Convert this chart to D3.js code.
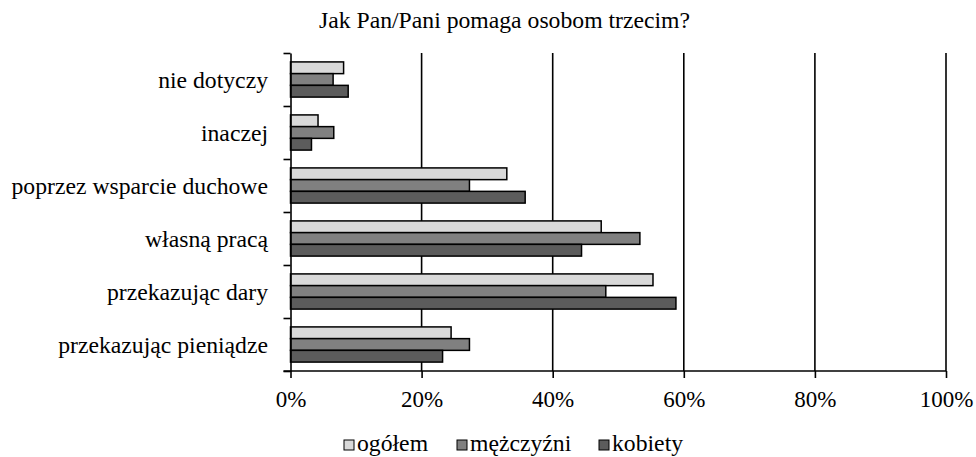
<!DOCTYPE html>
<html>
<head>
<meta charset="utf-8">
<script src="https://cdn.jsdelivr.net/npm/d3@7"></script>
<style>
  body { margin: 0; background: #fff; }
</style>
</head>
<body>
<div class="chart"></div>
<script>
// data (top category first)
const categories = ["nie dotyczy", "inaczej", "poprzez wsparcie duchowe", "własną pracą", "przekazując dary", "przekazując pieniądze"];
const seriesNames = ["ogółem", "mężczyźni", "kobiety"];
const ogolem    = [8.1, 4.2, 33.0, 47.4, 55.3, 24.5];
const mezczyzni = [6.5, 6.6, 27.3, 53.3, 48.1, 27.3];
const kobiety   = [8.8, 3.2, 35.8, 44.4, 58.8, 23.2];
const xTicks = [0, 20, 40, 60, 80, 100];
const colors = ["#d9d9d9", "#808080", "#5c5c5c"];

const seriesValues = [ogolem, mezczyzni, kobiety];
const FONT = "'Liberation Serif', 'Times New Roman', Tinos, 'DejaVu Serif', serif";

const width = 976, height = 457;
const margin = {top: 53, right: 30, bottom: 86, left: 290.5};

const svg = d3.select(".chart").append("svg")
    .attr("width", width)
    .attr("height", height)
    .attr("font-family", FONT);

const xScale = d3.scaleLinear()
    .domain([0, 100])
    .range([margin.left, 946]);

const yScale = d3.scaleBand()
    .domain(categories)
    .range([margin.top, height - margin.bottom]);

const yInner = d3.scaleBand()
    .domain(seriesNames)
    .range([0, yScale.bandwidth()])
    .paddingInner(0)
    .paddingOuter(0.76);

const color = d3.scaleOrdinal().domain(seriesNames).range(colors);

// title
svg.append("text")
    .attr("x", 504.5)
    .attr("y", 28)
    .attr("text-anchor", "middle")
    .style("font-family", FONT)
    .style("font-size", "23.7px")
    .text("Jak Pan/Pani pomaga osobom trzecim?");

// vertical grid lines
svg.append("g")
    .selectAll("line")
    .data(xTicks.slice(1))
    .enter()
    .append("line")
        .attr("x1", d => xScale(d))
        .attr("x2", d => xScale(d))
        .attr("y1", yScale.range()[0])
        .attr("y2", yScale.range()[1])
        .attr("stroke", "#000")
        .attr("stroke-width", 1.6);

// bars
const rows = [];
categories.forEach(function(c, i) {
    seriesNames.forEach(function(s, j) {
        rows.push({cat: c, series: s, value: seriesValues[j][i]});
    });
});

svg.append("g")
    .selectAll("rect")
    .data(rows)
    .enter()
    .append("rect")
        .attr("x", xScale(0))
        .attr("y", d => yScale(d.cat) + yInner(d.series))
        .attr("width", d => xScale(d.value) - xScale(0))
        .attr("height", yInner.bandwidth())
        .attr("fill", d => color(d.series))
        .attr("stroke", "#000")
        .attr("stroke-width", 1.5);

// x axis
const xAxis = d3.axisBottom(xScale)
    .tickValues(xTicks)
    .tickFormat(d => d + "%")
    .tickSize(7)
    .tickSizeOuter(0)
    .tickPadding(13);

const gx = svg.append("g")
    .attr("class", "axis x-axis")
    .attr("transform", "translate(0," + yScale.range()[1] + ")")
    .call(xAxis)
    .attr("font-family", FONT);
gx.select(".domain").remove();
gx.selectAll("line").attr("stroke-width", 1.6);
gx.selectAll("text").style("font-family", FONT).style("font-size", "23px").attr("fill", "#000");

svg.append("line")
    .attr("x1", xScale(0) - 7)
    .attr("x2", xScale(100))
    .attr("y1", yScale.range()[1])
    .attr("y2", yScale.range()[1])
    .attr("stroke", "#000")
    .attr("stroke-width", 1.6);

// y axis: ticks at category boundaries
const yBound = d3.scaleLinear()
    .domain([0, categories.length])
    .range(yScale.range());

const yAxis = d3.axisLeft(yBound)
    .ticks(categories.length)
    .tickFormat("")
    .tickSize(7)
    .tickSizeOuter(0);

const gy = svg.append("g")
    .attr("class", "axis y-axis")
    .attr("transform", "translate(" + xScale(0) + ",0)")
    .call(yAxis);
gy.selectAll("line, path").attr("stroke-width", 1.6);

svg.append("g")
    .selectAll("text")
    .data(categories)
    .enter()
    .append("text")
        .attr("x", 268)
        .attr("y", d => yScale(d) + yScale.bandwidth() / 2)
        .attr("dy", "0.35em")
        .attr("text-anchor", "end")
        .style("font-family", FONT)
        .style("font-size", "23.7px")
        .text(d => d);

// legend
const legend = svg.append("g").attr("transform", "translate(344,440)");
const legendX = [0, 113, 255];

const item = legend.selectAll("g")
    .data(seriesNames)
    .enter()
    .append("g")
        .attr("transform", (d, i) => "translate(" + legendX[i] + ",0)");

item.append("rect")
    .attr("width", 10)
    .attr("height", 10)
    .attr("fill", d => color(d))
    .attr("stroke", "#000")
    .attr("stroke-width", 1);

item.append("text")
    .attr("x", 13)
    .attr("y", 11)
    .style("font-family", FONT)
    .style("font-size", "23.7px")
    .text(d => d);
</script>
</body>
</html>
